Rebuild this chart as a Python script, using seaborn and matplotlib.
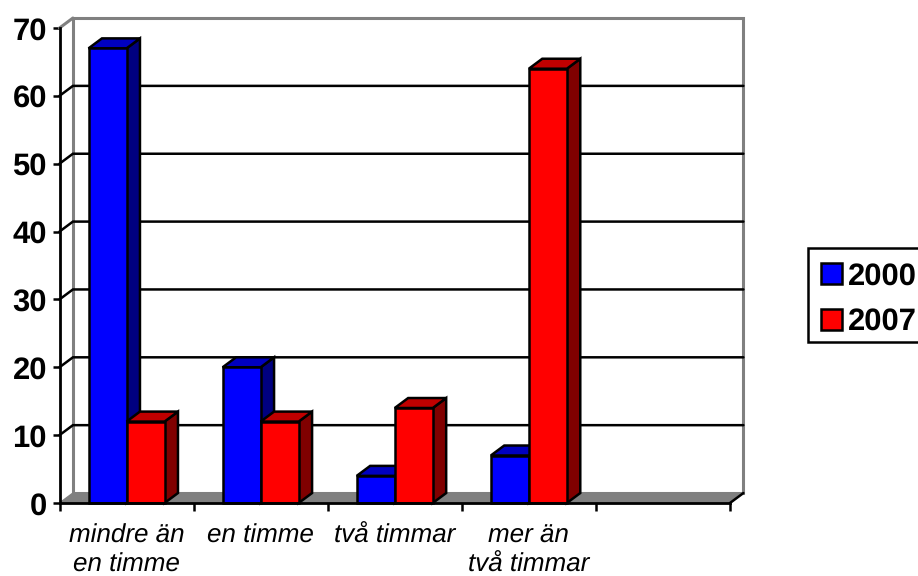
import pandas as pd
import matplotlib
matplotlib.use('Agg')
import matplotlib.pyplot as plt
from matplotlib.colors import to_hex
from matplotlib.patches import Polygon, Rectangle
import seaborn as sns

# Values
categories = ['mindre än\nen timme', 'en timme', 'två timmar', 'mer än\ntvå timmar']
slots = categories + ['']  # the chart keeps one empty slot on the right
values_2000 = [67, 20, 4, 7]
values_2007 = [12, 12, 14, 64]
y_ticks = [0, 10, 20, 30, 40, 50, 60, 70]

colors = {'2000': '#0000ff', '2007': '#ff0000'}
side_colors = {'#0000ff': '#000080', '#ff0000': '#800000'}
top_colors = {'#0000ff': '#0000c0', '#ff0000': '#c00000'}

df = pd.DataFrame({
    'category': categories * 2,
    'value': values_2000 + values_2007,
    'year': ['2000'] * 4 + ['2007'] * 4,
})

sns.set_theme(style='white')
plt.rcParams['font.family'] = ['Liberation Sans', 'DejaVu Sans']
plt.rcParams['text.hinting'] = 'no_hinting'
plt.rcParams['text.hinting_factor'] = 1

W, H = 918, 576
lw = 1.8
fig = plt.figure(figsize=(W / 100, H / 100), dpi=100)
ax = fig.add_axes([59.5 / W, 1 - 503 / H, (730 - 59.5) / W, (503 - 28) / H])

sns.barplot(data=df, x='category', y='value', hue='year', order=slots,
            palette=colors, width=0.567, gap=0, saturation=1,
            edgecolor='black', linewidth=lw, ax=ax)
bars = list(ax.patches)

ax.set_xlim(-0.5, 4.5)
ax.set_ylim(0, 70)
ax.set_xlabel('')
ax.set_ylabel('')

# depth of the fake 3D box, in data units
dx = 0.1
dy = 1.47
gray = '#808080'
x0, x1 = -0.5, 4.5

# back wall and floor
ax.add_patch(Polygon([(x0 + dx, dy), (x1 + dx, dy), (x1 + dx, 70 + dy), (x0 + dx, 70 + dy)],
                     closed=True, facecolor='white', edgecolor=gray, lw=2.2, zorder=0.5, clip_on=False))
ax.add_patch(Polygon([(x0, 0), (x1, 0), (x1 + dx, dy), (x0 + dx, dy)],
                     closed=True, facecolor=gray, edgecolor=gray, lw=1, zorder=0.6, clip_on=False))
ax.plot([x0, x0 + dx], [70, 70 + dy], color=gray, lw=2.2, zorder=0.7, clip_on=False)
ax.plot([x1, x1 + dx], [0, dy], color='black', lw=lw, zorder=0.7, clip_on=False)

# gridlines run along the back wall, with a short step on the left wall
for t in y_ticks[1:-1]:
    ax.plot([x0, x0 + dx, x1 + dx], [t, t + dy, t + dy], color='black', lw=lw,
            zorder=1, clip_on=False, solid_joinstyle='miter')

# side and top faces for each bar (seaborn also leaves an empty placeholder patch)
for i, p in enumerate(bars):
    h = p.get_height()
    if not h > 0:
        continue
    bx, bw = p.get_x(), p.get_width()
    face = to_hex(p.get_facecolor())
    z = 2 + i * 0.01
    ax.add_patch(Polygon([(bx + bw, 0), (bx + bw + dx, dy), (bx + bw + dx, h + dy), (bx + bw, h)],
                         closed=True, facecolor=side_colors[face], edgecolor='black', lw=lw,
                         zorder=z, clip_on=False))
    ax.add_patch(Polygon([(bx, h), (bx + dx, h + dy), (bx + bw + dx, h + dy), (bx + bw, h)],
                         closed=True, facecolor=top_colors[face], edgecolor='black', lw=lw,
                         zorder=z, clip_on=False))
    p.set_zorder(z + 0.005)
    p.set_clip_on(False)

# axes
for s in ['top', 'right']:
    ax.spines[s].set_visible(False)
for s in ['left', 'bottom']:
    ax.spines[s].set_color('black')
    ax.spines[s].set_linewidth(2)
    ax.spines[s].set_zorder(4)

ax.set_yticks(y_ticks)
ax.tick_params(axis='y', length=5, width=lw, color='black', pad=4, left=True)
for lab in ax.get_yticklabels():
    lab.set_fontsize(22.5)
    lab.set_fontweight('bold')
    lab.set_color('black')

ax.set_xticks([x - 0.5 for x in range(6)], minor=True)
ax.tick_params(axis='x', which='minor', length=6, width=lw, color='black', bottom=True)
ax.tick_params(axis='x', which='major', length=0, pad=15)
for lab in ax.get_xticklabels():
    lab.set_fontsize(18.6)
    lab.set_fontstyle('italic')
    lab.set_color('black')
    lab.set_linespacing(1.25)

# legend frame runs off the right edge of the picture, so it is drawn on its own
fig.add_artist(Rectangle((808 / W, 1 - 342 / H), 130 / W, 94 / H, transform=fig.transFigure,
                         facecolor='white', edgecolor='black', lw=lw, zorder=-1))
ax.legend(loc='upper left', bbox_to_anchor=(808 / W, 1 - 249 / H), bbox_transform=fig.transFigure,
          borderaxespad=0, frameon=False, title=None, labelcolor='black',
          prop={'family': 'Liberation Sans', 'weight': 'bold', 'size': 22},
          handlelength=0.7, handleheight=0.7, handletextpad=0.2, borderpad=0.42, labelspacing=0.55)
ax.get_legend().set_zorder(10)
for handle in ax.get_legend().get_patches():
    handle.set_linewidth(lw)

fig.savefig('out.png', dpi=100)
